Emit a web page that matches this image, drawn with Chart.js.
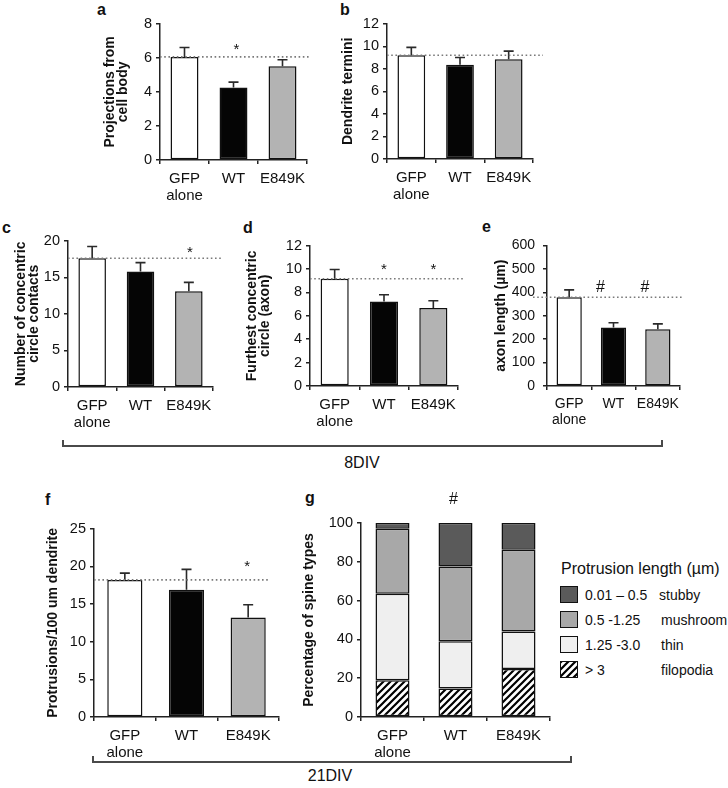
<!DOCTYPE html>
<html><head><meta charset="utf-8">
<script src="https://cdn.jsdelivr.net/npm/chart.js@4"></script>
<style>
body{margin:0;background:#fff;width:728px;height:788px;overflow:hidden;position:relative;font-family:'Liberation Sans',Arial,sans-serif;color:#111}
canvas{position:absolute}
.ltr{position:absolute;font-weight:bold;font-size:16px;line-height:1}
.brk{position:absolute;border:2px solid #4a4a4a;border-top:none;height:5px}
.div{position:absolute;font-size:16px;line-height:1;transform:translate(-50%,-50%);white-space:nowrap}
.lg{position:absolute;font-size:14px;line-height:18px;white-space:nowrap}
.sw{position:absolute;width:16px;height:15px;border:1.5px solid #111}
</style></head><body>
<div class="ltr" style="left:97px;top:1.5px">a</div>
<div class="ltr" style="left:340px;top:1.5px">b</div>
<div class="ltr" style="left:2px;top:219.5px">c</div>
<div class="ltr" style="left:243px;top:219.5px">d</div>
<div class="ltr" style="left:482px;top:218.5px">e</div>
<div class="ltr" style="left:45px;top:491.5px">f</div>
<div class="ltr" style="left:305px;top:489.5px">g</div>
<div class="brk" style="left:62px;top:440px;width:597px"></div>
<div class="div" style="left:362px;top:463px">8DIV</div>
<div class="brk" style="left:92px;top:756px;width:476px"></div>
<div class="div" style="left:330px;top:776px">21DIV</div>
<div id="legend"></div>
<script>
// ---------- data ----------
const groups = [['GFP', 'alone'], 'WT', 'E849K'];

const projections = [6.05, 4.25, 5.5];
const projectionsSem = [0.55, 0.32, 0.38];
const projectionsSig = ['', '*', ''];

const termini = [9.2, 8.35, 8.85];
const terminiSem = [0.7, 0.65, 0.72];
const terminiSig = ['', '', ''];

const contacts = [17.6, 15.8, 13.1];
const contactsSem = [1.6, 1.2, 1.2];
const contactsSig = ['', '', '*'];

const furthest = [9.17, 7.23, 6.67];
const furthestSem = [0.8, 0.57, 0.62];
const furthestSig = ['', '*', '*'];

const axonLength = [379, 250, 242];
const axonLengthSem = [31, 20, 23];
const axonLengthSig = ['', '#', '#'];

const protrusions = [18.2, 16.9, 13.2];
const protrusionsSem = [0.9, 2.7, 1.7];
const protrusionsSig = ['', '', '*'];

// spine types (% of protrusions), stacked bottom to top
const filopodia = [19, 14.7, 24.7];
const thin = [44.5, 24.3, 19.4];
const mushroom = [33.5, 38.6, 42.1];
const stubby = [3, 22.4, 13.8];
const spineSig = ['', '#', ''];
const spineRanges = ['> 3', '1.25 -3.0', '0.5 -1.25', '0.01 – 0.5'];
const spineNames = ['filopodia', 'thin', 'mushroom', 'stubby'];
const legendTitle = 'Protrusion length (µm)';

// ---------- drawing ----------
Chart.defaults.font.family = "'Liberation Sans', Arial, sans-serif";
Chart.defaults.color = '#111';
const FILL = ['#ffffff', '#050505', '#b3b3b3'];

function hatchCanvas() {
  const s = 7, c = document.createElement('canvas');
  c.width = c.height = s;
  const g = c.getContext('2d');
  g.fillStyle = '#fff'; g.fillRect(0, 0, s, s);
  g.strokeStyle = '#000'; g.lineWidth = 2.2;
  g.beginPath();
  g.moveTo(-1, s + 1); g.lineTo(s + 1, -1);
  g.moveTo(-1, 1); g.lineTo(1, -1);
  g.moveTo(s - 1, s + 1); g.lineTo(s + 1, s - 1);
  g.stroke();
  return c;
}

function annot(cfg) {
  return {
    id: 'annot',
    afterDatasetsDraw(chart) {
      const ctx = chart.ctx, y = chart.scales.y, x = chart.scales.x, ca = chart.chartArea;
      ctx.save();
      if (cfg.sem) {
        const meta = chart.getDatasetMeta(0);
        const vals = chart.data.datasets[0].data;
        ctx.strokeStyle = '#2a2a2a'; ctx.lineWidth = 1.6;
        meta.data.forEach((bar, i) => {
          const yt = y.getPixelForValue(vals[i] + cfg.sem[i]);
          ctx.beginPath();
          ctx.moveTo(bar.x, bar.y); ctx.lineTo(bar.x, yt);
          ctx.moveTo(bar.x - 5, yt); ctx.lineTo(bar.x + 5, yt);
          ctx.stroke();
        });
      }
      let yr = null;
      if (cfg.ref != null) {
        yr = y.getPixelForValue(cfg.ref);
        ctx.setLineDash([1.6, 2.6]); ctx.strokeStyle = '#7a7a7a'; ctx.lineWidth = 1.6;
        ctx.beginPath();
        ctx.moveTo(ca.left + (cfg.refL || 0), yr);
        ctx.lineTo(ca.right + (cfg.refR || 0), yr);
        ctx.stroke();
        ctx.setLineDash([]);
      }
      if (cfg.sig) {
        const base = yr != null ? yr : y.getPixelForValue(y.max);
        ctx.fillStyle = '#111';
        ctx.textAlign = 'center'; ctx.textBaseline = 'alphabetic';
        cfg.sig.forEach((s, i) => {
          if (!s) return;
          const cx = x.getPixelForValue(i) + (cfg.sigDx || 0);
          const cy = base - cfg.sigOff;
          if (s === '*') { ctx.font = "15px 'Liberation Sans', Arial"; ctx.fillText(s, cx, cy + 8.5); }
          else { ctx.font = "16px 'Liberation Sans', Arial"; ctx.fillText(s, cx, cy + 5.8); }
        });
      }
      ctx.restore();
    }
  };
}

function panel(cfg) {
  const padTop = cfg.padTop || 12;
  const cl = Math.round(cfg.titleX - 12);
  const ct = cfg.top - padTop;
  const cw = cfg.right - cl + 20;
  const ch = cfg.bottom - cfg.top + padTop + 50;
  const cv = document.createElement('canvas');
  cv.width = cw; cv.height = ch;
  cv.style.left = cl + 'px'; cv.style.top = ct + 'px';
  document.body.appendChild(cv);
  const yw = cfg.left - cl;
  const datasets = cfg.datasets(cv.getContext('2d'));
  const chart = new Chart(cv, {
    type: 'bar',
    data: { labels: groups, datasets },
    options: {
      responsive: false, animation: false, devicePixelRatio: 1,
      layout: { padding: { top: padTop, right: 20, bottom: 0, left: 0 } },
      plugins: { legend: { display: false }, tooltip: { enabled: false } },
      scales: {
        x: {
          stacked: !!cfg.stacked, offset: true,
          grid: { display: true, drawOnChartArea: false, drawTicks: true, tickLength: 4, color: '#222', lineWidth: 1.5, offset: true },
          border: { display: true, color: '#222', width: 1.5 },
          ticks: { font: { size: cfg.xFont || 15, lineHeight: 1.15 }, padding: 6, color: '#111', maxRotation: 0, autoSkip: false },
          afterFit(s) { s.height = 50; }
        },
        y: {
          stacked: !!cfg.stacked, min: 0, max: cfg.max,
          ticks: { stepSize: cfg.step, font: { size: cfg.yFont || 14.5 }, padding: cfg.tickPad || 4, color: '#111' },
          grid: { display: true, drawOnChartArea: false, drawTicks: true, tickLength: 4, color: '#222', lineWidth: 1.5 },
          border: { display: true, color: '#222', width: 1.5 },
          title: { display: true, text: cfg.title, color: '#111', font: { size: 14, weight: 'bold', lineHeight: 0.93 }, padding: { top: 5.5, bottom: 0 } },
          afterFit(s) { s.width = yw; }
        }
      }
    },
    plugins: [annot(cfg)]
  });
  return chart;
}

function simple(values) {
  return () => [{
    data: values, backgroundColor: FILL, borderColor: '#111', borderWidth: 1.5,
    borderSkipped: false, barPercentage: 0.57, categoryPercentage: 1
  }];
}

panel({ left: 160, right: 307, top: 23, bottom: 160, titleX: 110, max: 8, step: 2,
  title: ['Projections from', 'cell body'], datasets: simple(projections),
  sem: projectionsSem, ref: projections[0], refR: 4, sig: projectionsSig, sigOff: 11, sigDx: 3 });

panel({ left: 387, right: 533, top: 23, bottom: 159, titleX: 348, max: 12, step: 2,
  title: 'Dendrite termini', datasets: simple(termini),
  sem: terminiSem, ref: termini[0], refR: 10, sig: terminiSig, sigOff: 11 });

panel({ left: 68, right: 213, top: 240, bottom: 387, titleX: 21, max: 20, step: 5,
  title: ['Number of concentric', 'circle contacts'], datasets: simple(contacts),
  sem: contactsSem, ref: contacts[0], refR: 8, sig: contactsSig, sigOff: 10, sigDx: 1 });

panel({ left: 310, right: 458, top: 245, bottom: 386, titleX: 252, max: 12, step: 2,
  title: ['Furthest concentric', 'circle (axon)'], datasets: simple(furthest),
  sem: furthestSem, ref: furthest[0], refR: 7, sig: furthestSig, sigOff: 13 });

panel({ left: 547, right: 680, top: 241, bottom: 386, titleX: 501, max: 600, step: 100,
  title: 'axon length (µm)', datasets: simple(axonLength), xFont: 14, yFont: 14, tickPad: 8,
  sem: axonLengthSem, ref: axonLength[0], refL: -14, refR: 4, sig: axonLengthSig, sigOff: 11, sigDx: -13 });

panel({ left: 94, right: 279, top: 528, bottom: 717, titleX: 52.5, max: 25, step: 5,
  title: 'Protrusions/100 um dendrite', datasets: simple(protrusions),
  sem: protrusionsSem, ref: protrusions[0], refR: -10, sig: protrusionsSig, sigOff: 17, sigDx: -1 });

const hatch = hatchCanvas();
const spineColors = [null, '#efefef', '#a8a8a8', '#5a5a5a'];
const spineSeries = [filopodia, thin, mushroom, stubby];
panel({ left: 361, right: 550, top: 523, bottom: 717, titleX: 309, max: 100, step: 20, padTop: 35,
  title: 'Percentage of spine types', stacked: true,
  datasets: (ctx) => spineSeries.map((d, k) => ({
    label: spineRanges[k] + ' ' + spineNames[k], data: d,
    backgroundColor: k === 0 ? ctx.createPattern(hatch, 'repeat') : spineColors[k],
    borderColor: '#111', borderWidth: 1.5, borderSkipped: false,
    barPercentage: 0.54, categoryPercentage: 1
  })),
  sig: spineSig, sigOff: 25, sigDx: -2 });

// legend (top row = top segment)
const lg = document.getElementById('legend');
const t = document.createElement('div');
t.className = 'lg'; t.style.left = '561px'; t.style.top = '560px'; t.style.fontSize = '16px';
t.textContent = legendTitle; lg.appendChild(t);
const rowY = [595, 620, 645, 670];
const nameX = [659, 661, 661, 661];
for (let r = 0; r < 4; r++) {
  const k = 3 - r;
  const cy = rowY[r];
  const sw = document.createElement('div');
  sw.className = 'sw'; sw.style.left = '560px'; sw.style.top = (cy - 9) + 'px';
  if (k === 0) sw.style.backgroundImage = 'url(' + hatch.toDataURL() + ')';
  else sw.style.background = spineColors[k];
  lg.appendChild(sw);
  const a = document.createElement('div');
  a.className = 'lg'; a.style.left = '585px'; a.style.top = (cy - 9) + 'px';
  a.textContent = spineRanges[k]; lg.appendChild(a);
  const b = document.createElement('div');
  b.className = 'lg'; b.style.left = nameX[r] + 'px'; b.style.top = (cy - 9) + 'px';
  b.textContent = spineNames[k]; lg.appendChild(b);
}
</script>
</body></html>
